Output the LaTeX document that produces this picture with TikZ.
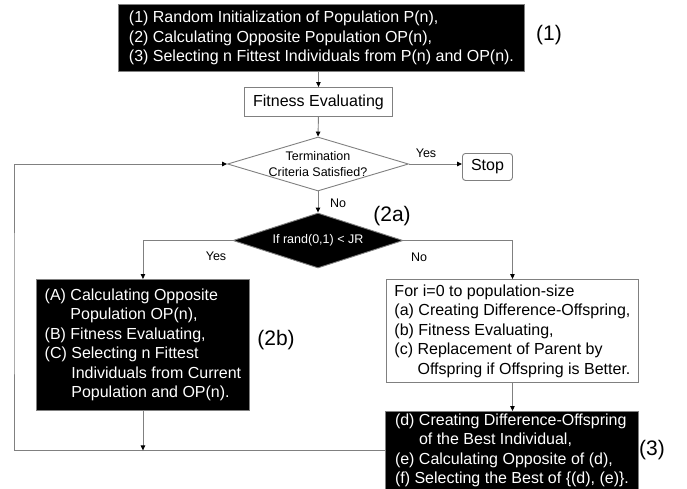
\documentclass[tikz,border=0pt]{standalone}
\usepackage{fontspec}
\setmainfont{Liberation Sans}
\usetikzlibrary{shapes.geometric,arrows.meta}
\definecolor{linegray}{HTML}{808080}
\begin{document}
\begin{tikzpicture}[x=1pt,y=-1pt,
  line/.style={draw=linegray, line width=0.9pt},
  arr/.style={line, -{Triangle[length=5pt,width=4.5pt,fill=black,color=black]}},
  bigfont/.style={font=\fontsize{16}{19.5}\selectfont},
  smallfont/.style={font=\fontsize{12.5}{16}\selectfont},
  labelfont/.style={font=\fontsize{21}{24}\selectfont},
  blackbox/.style={draw=linegray, fill=black, text=white, bigfont, align=left,
    inner xsep=0pt, inner ysep=0pt, anchor=north west, line width=0.9pt},
  whitebox/.style={draw=linegray, fill=white, text=black, bigfont, align=left,
    inner xsep=0pt, inner ysep=0pt, anchor=north west, line width=0.9pt},
  tlabel/.style={smallfont, inner sep=0pt},
  blabel/.style={labelfont, inner sep=0pt}
]
\useasboundingbox (0,0) rectangle (687,488);

% nodes
\node[blackbox, minimum width=406pt, minimum height=67pt] (top) at (118,4)
  {(1) Random Initialization of Population P(n),\\
   (2) Calculating Opposite Population OP(n),\\
   (3) Selecting n Fittest Individuals from P(n) and OP(n).};
\node[whitebox, align=center, minimum width=148pt, minimum height=29pt] (fit) at (244,87)
  {Fitness Evaluating};
\node[diamond, draw=linegray, fill=white, line width=0.9pt, minimum width=181pt,
  minimum height=54pt, inner sep=0pt] (d1) at (318,164) {};
\node[smallfont, align=center, inner sep=0pt] at (d1.center) {Termination\\Criteria Satisfied?};
\node[whitebox, align=center, rounded corners=3pt, minimum width=50pt, minimum height=27pt]
  (stop) at (462,153) {Stop};
\node[diamond, draw=linegray, fill=black, line width=0.9pt, minimum width=170pt,
  minimum height=55pt, inner sep=0pt] (d2) at (318,240.5) {};
\node[smallfont, text=white, inner sep=0pt] at (d2.center) {If rand(0,1) < JR};
\node[blackbox, minimum width=213pt, minimum height=131pt] (b2b) at (36,279)
  {(A) Calculating Opposite\\
   \phantom{(A) }Population OP(n),\\
   (B) Fitness Evaluating,\\
   (C) Selecting n Fittest\\
   \phantom{(C) }Individuals from Current\\
   \phantom{(C) }Population and OP(n).};
\node[whitebox, minimum width=252pt, minimum height=103pt] (bfor) at (386,279)
  {For i=0 to population-size\\
   (a) Creating Difference-Offspring,\\
   (b) Fitness Evaluating,\\
   (c) Replacement of Parent by\\
   \phantom{(c) }Offspring if Offspring is Better.};
\node[blackbox, minimum width=253pt, minimum height=78pt] (b3) at (385,411)
  {(d) Creating Difference-Offspring\\
   \phantom{(d) }of the Best Individual,\\
   (e) Calculating Opposite of (d),\\
   (f) Selecting the Best of \{(d), (e)\}.};

% connectors
\draw[arr] (fit.north |- top.south) -- (fit.north);
\draw[arr] (fit.south) -- (d1.north);
\draw[arr] (d1.east) -- (d1.east -| stop.west);
\draw[arr] (d1.south) -- (d2.north);
\draw[arr] (d2.west) -| (b2b.north);
\draw[arr] (d2.east) -| (bfor.north);
\draw[arr] (bfor.south) -- (bfor.south |- b3.north);
\coordinate (lc) at (14,300);
\draw[arr] (b3.west) -| (lc) |- (d1.west);
\draw[arr] (b2b.south) -- (b2b.south |- b3.west);

% labels
\node[tlabel] (yes1) at (426,153) {Yes};
\node[tlabel] (no1) at (338,203) {No};
\node[tlabel] (yes2) at (216,256) {Yes};
\node[tlabel] (no2) at (419,257) {No};
\node[blabel] (l1) at (549,35) {(1)};
\node[blabel] (l2a) at (392,216) {(2a)};
\node[blabel] (l2b) at (276,340) {(2b)};
\node[blabel] (l3) at (652,450) {(3)};
\end{tikzpicture}
\end{document}
